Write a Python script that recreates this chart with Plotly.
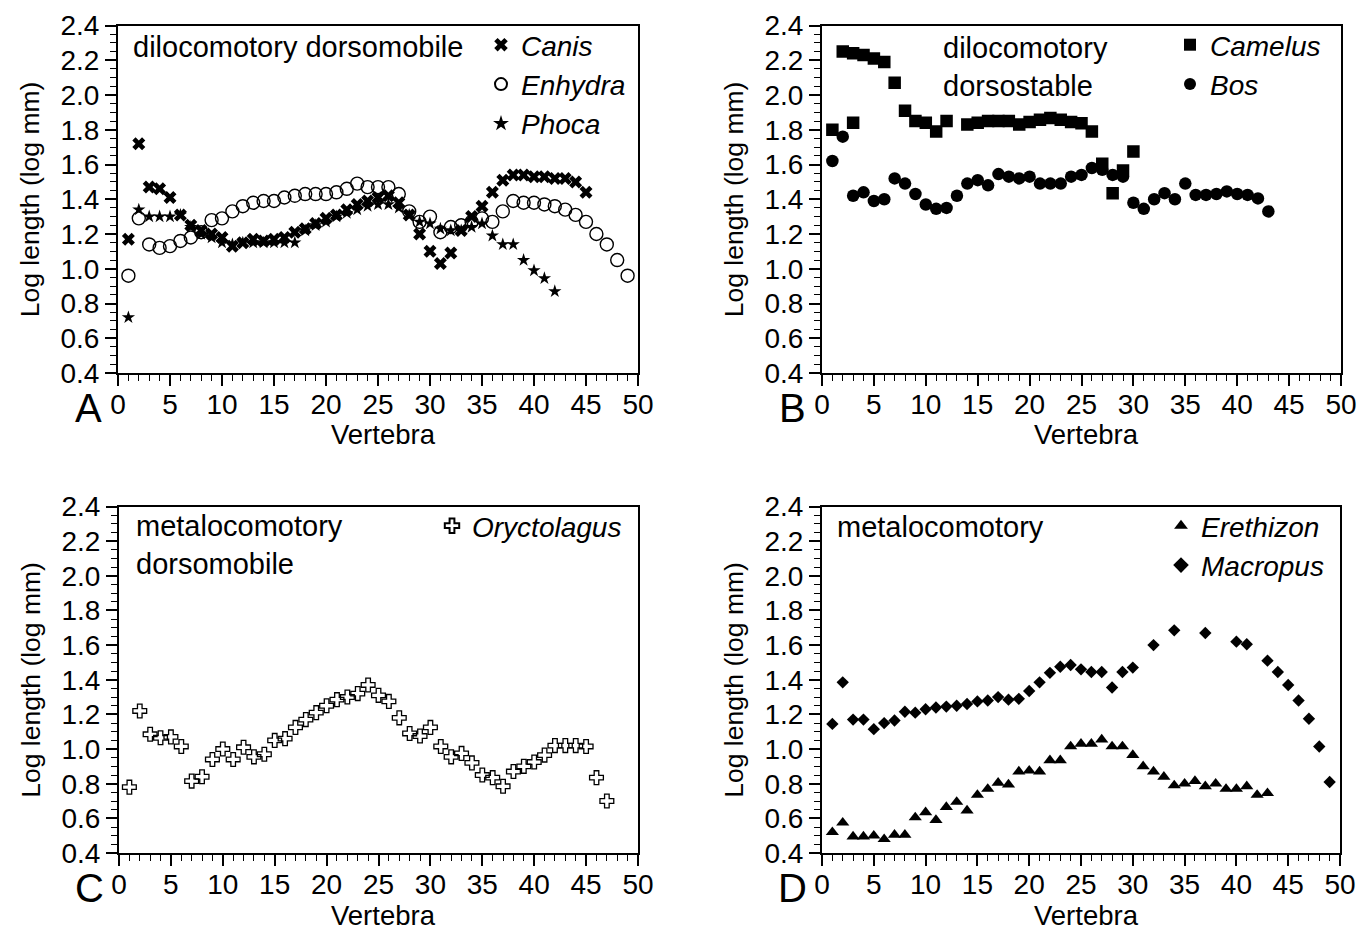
import plotly.graph_objects as go

# ---------------- data: log vertebral length (log mm) by vertebra number ----------------
canis_v = list(range(1, 46))
canis_y = [1.17, 1.72, 1.47, 1.46, 1.41, 1.31, 1.25, 1.22, 1.20, 1.18,
           1.13, 1.15, 1.17, 1.16, 1.17, 1.18, 1.21, 1.23, 1.26, 1.29,
           1.31, 1.34, 1.37, 1.39, 1.41, 1.42, 1.38, 1.31, 1.20, 1.10,
           1.03, 1.09, 1.22, 1.30, 1.36, 1.44, 1.51, 1.54, 1.54, 1.53,
           1.53, 1.52, 1.52, 1.50, 1.44]

enhydra_v = list(range(1, 50))
enhydra_y = [0.96, 1.29, 1.14, 1.12, 1.13, 1.16, 1.18, 1.21, 1.28, 1.29,
             1.33, 1.36, 1.38, 1.39, 1.39, 1.41, 1.42, 1.43, 1.43, 1.43,
             1.44, 1.46, 1.49, 1.47, 1.47, 1.47, 1.43, 1.33, 1.27, 1.30,
             1.21, 1.24, 1.25, 1.27, 1.29, 1.27, 1.33, 1.39, 1.38, 1.38,
             1.37, 1.36, 1.34, 1.31, 1.27, 1.20, 1.14, 1.05, 0.96]

phoca_v = list(range(1, 43))
phoca_y = [0.72, 1.34, 1.30, 1.30, 1.30, 1.31, 1.24, 1.20, 1.18, 1.15,
           1.14, 1.15, 1.15, 1.15, 1.15, 1.15, 1.15, 1.22, 1.25, 1.27,
           1.30, 1.32, 1.34, 1.36, 1.37, 1.37, 1.35, 1.31, 1.27, 1.26,
           1.23, 1.22, 1.22, 1.24, 1.26, 1.19, 1.14, 1.14, 1.05, 0.99,
           0.945, 0.87]

camelus_v = [1, 2, 3, 3, 4, 5, 6, 7, 8, 9, 10, 11, 12, 14, 15, 16, 17, 18,
             19, 20, 21, 22, 23, 24, 25, 26, 27, 28, 29, 30]
camelus_y = [1.80, 2.25, 2.24, 1.84, 2.23, 2.21, 2.19, 2.07, 1.91, 1.85,
             1.84, 1.79, 1.85, 1.83, 1.84, 1.85, 1.85, 1.85, 1.83, 1.845,
             1.857, 1.867, 1.857, 1.845, 1.838, 1.79, 1.605, 1.435, 1.565, 1.675]

bos_v = list(range(1, 44))
bos_y = [1.62, 1.76, 1.42, 1.44, 1.39, 1.40, 1.52, 1.49, 1.43, 1.37,
         1.345, 1.35, 1.42, 1.49, 1.51, 1.48, 1.545, 1.53, 1.52, 1.53,
         1.49, 1.49, 1.49, 1.53, 1.54, 1.58, 1.57, 1.54, 1.53, 1.38,
         1.345, 1.40, 1.435, 1.40, 1.49, 1.425, 1.425, 1.43, 1.445, 1.43,
         1.425, 1.405, 1.33]

oryctolagus_v = list(range(1, 48))
oryctolagus_y = [0.78, 1.22, 1.085, 1.065, 1.07, 1.015, 0.815, 0.84, 0.94, 1.00,
                 0.94, 1.01, 0.955, 0.97, 1.05, 1.06, 1.125, 1.17, 1.21, 1.25,
                 1.285, 1.30, 1.32, 1.37, 1.31, 1.275, 1.18, 1.09, 1.075, 1.125,
                 1.015, 0.955, 0.975, 0.92, 0.85, 0.835, 0.785, 0.87, 0.90, 0.925,
                 0.965, 1.02, 1.02, 1.02, 1.015, 0.835, 0.70]

erethizon_v = list(range(1, 44))
erethizon_y = [0.52, 0.575, 0.495, 0.495, 0.50, 0.48, 0.505, 0.505, 0.605, 0.635,
               0.59, 0.665, 0.695, 0.645, 0.735, 0.77, 0.805, 0.795, 0.87, 0.875,
               0.87, 0.935, 0.935, 1.015, 1.03, 1.03, 1.055, 1.015, 1.015, 0.965,
               0.90, 0.87, 0.84, 0.79, 0.80, 0.815, 0.785, 0.80, 0.77, 0.77,
               0.785, 0.735, 0.745]

macropus_v = list(range(1, 31)) + [32, 34, 37, 40, 41, 43, 44, 45, 46, 47, 48, 49]
macropus_y = [1.145, 1.385, 1.17, 1.17, 1.115, 1.15, 1.165, 1.215, 1.21, 1.23,
              1.24, 1.245, 1.25, 1.26, 1.275, 1.28, 1.30, 1.285, 1.29, 1.335,
              1.385, 1.44, 1.475, 1.485, 1.46, 1.445, 1.445, 1.355, 1.445, 1.47,
              1.60, 1.685, 1.67, 1.62, 1.605, 1.51, 1.445, 1.37, 1.28, 1.175,
              1.015, 0.81]

x_ticks = list(range(0, 51, 5))
y_ticks = [round(0.4 + 0.2 * i, 1) for i in range(11)]

# ---------------- page geometry (pixels) ----------------
W, H = 1360, 931
FONT = "Liberation Sans, Arial, Helvetica, sans-serif"
frames = {
    "A": dict(x=(118, 638), y=(25.5, 373)),
    "B": dict(x=(822, 1341), y=(25.5, 373)),
    "C": dict(x=(119, 638), y=(506.5, 853)),
    "D": dict(x=(822, 1340), y=(506.5, 853)),
}


def px(x):
    return x / W


def py(y):
    return 1 - y / H


fig = go.Figure()

axis_ids = {"A": ("x", "y"), "B": ("x2", "y2"), "C": ("x3", "y3"), "D": ("x4", "y4")}
legend_ids = {"A": "legend", "B": "legend2", "C": "legend3", "D": "legend4"}

series = [
    ("A", "Canis", canis_v, canis_y, dict(symbol="x", size=11.5, color="black")),
    ("A", "Enhydra", enhydra_v, enhydra_y,
     dict(symbol="circle-open", size=13, color="black", line=dict(width=1.4, color="black"))),
    ("A", "Phoca", phoca_v, phoca_y, dict(symbol="star", size=10, color="black")),
    ("B", "Camelus", camelus_v, camelus_y, dict(symbol="square", size=12.5, color="black")),
    ("B", "Bos", bos_v, bos_y, dict(symbol="circle", size=12.5, color="black")),
    ("C", "Oryctolagus", oryctolagus_v, oryctolagus_y,
     dict(symbol="cross-open", size=11.5, color="black", line=dict(width=1.3, color="black"))),
    ("D", "Erethizon", erethizon_v, erethizon_y, dict(symbol="triangle-up", size=11.5, color="black")),
    ("D", "Macropus", macropus_v, macropus_y, dict(symbol="diamond", size=9.5, color="black")),
]

for panel, name, xs, ys, marker in series:
    xa, ya = axis_ids[panel]
    fig.add_trace(go.Scatter(
        x=xs, y=ys, mode="markers", name="<i>%s</i>" % name,
        marker=marker, xaxis=xa, yaxis=ya, legend=legend_ids[panel],
        showlegend=True,
    ))

axis_common = dict(
    showline=True, linewidth=2, linecolor="black", mirror=True, automargin=False,
    showgrid=False, zeroline=False, ticks="outside", tickwidth=1.5,
    tickcolor="black", ticklen=11, tickfont=dict(family=FONT, size=28, color="black"),
)

layout = dict(
    width=W, height=H, margin=dict(l=0, r=0, t=0, b=0, autoexpand=False),
    paper_bgcolor="white", plot_bgcolor="white",
    font=dict(family=FONT, color="black"),
    annotations=[],
)

for i, (panel, fr) in enumerate(frames.items()):
    sfx = "" if i == 0 else str(i + 1)
    xa, ya = axis_ids[panel]
    layout["xaxis" + sfx] = dict(
        axis_common, domain=[px(fr["x"][0]), px(fr["x"][1])], range=[0, 50],
        tickvals=x_ticks, anchor=ya, ticklabelstandoff=-6,
        minor=dict(dtick=1, tick0=0, ticks="outside", ticklen=6, tickwidth=1.2,
                   tickcolor="black", showgrid=False),
    )
    layout["yaxis" + sfx] = dict(
        axis_common, domain=[py(fr["y"][1]), py(fr["y"][0])], range=[0.4, 2.4],
        tickvals=y_ticks, ticktext=["%.1f" % v for v in y_ticks], anchor=xa,
        minor=dict(dtick=0.05, tick0=0.4, ticks="outside", ticklen=6, tickwidth=1.2,
                   tickcolor="black", showgrid=False),
    )

    xc = (fr["x"][0] + fr["x"][1]) / 2 + 5
    yc = (fr["y"][0] + fr["y"][1]) / 2
    # axis titles
    layout["annotations"].append(dict(
        text="Vertebra", x=px(xc), y=py(fr["y"][1] + 62), xref="paper", yref="paper",
        showarrow=False, xanchor="center", yanchor="middle",
        font=dict(family=FONT, size=27.5, color="black")))
    layout["annotations"].append(dict(
        text="Log length (log mm)", x=px(fr["x"][0] - 88), y=py(yc), xref="paper", yref="paper",
        showarrow=False, textangle=-90, xanchor="center", yanchor="middle",
        font=dict(family=FONT, size=26.5, color="black")))
    # panel letter
    layout["annotations"].append(dict(
        text=panel, x=px(fr["x"][0] - 30), y=py(fr["y"][1] + 35), xref="paper", yref="paper",
        showarrow=False, xanchor="center", yanchor="middle",
        font=dict(family=FONT, size=40, color="black")))

# group labels inside each panel
group_labels = [
    ("A", "dilocomotory dorsomobile", 131, 47),
    ("B", "dilocomotory<br>dorsostable", 941, 67),
    ("C", "metalocomotory<br>dorsomobile", 134, 545),
    ("D", "metalocomotory", 835, 527),
]
for panel, txt, x0, y0 in group_labels:
    layout["annotations"].append(dict(
        text=txt, x=px(x0), y=py(y0), xref="paper", yref="paper", showarrow=False,
        xanchor="left", yanchor="middle", align="left",
        font=dict(family=FONT, size=29, color="black")))

legend_common = dict(
    xref="paper", yref="paper", xanchor="left", yanchor="top",
    bgcolor="rgba(0,0,0,0)", borderwidth=0, itemsizing="constant",
    font=dict(family=FONT, size=28, color="black"), tracegroupgap=0,
)
layout["legend"] = dict(legend_common, x=px(481), y=py(20))
layout["legend2"] = dict(legend_common, x=px(1170), y=py(20))
layout["legend3"] = dict(legend_common, x=px(432), y=py(501))
layout["legend4"] = dict(legend_common, x=px(1161), y=py(501))

fig.update_layout(layout)
fig.write_html("out.html")
